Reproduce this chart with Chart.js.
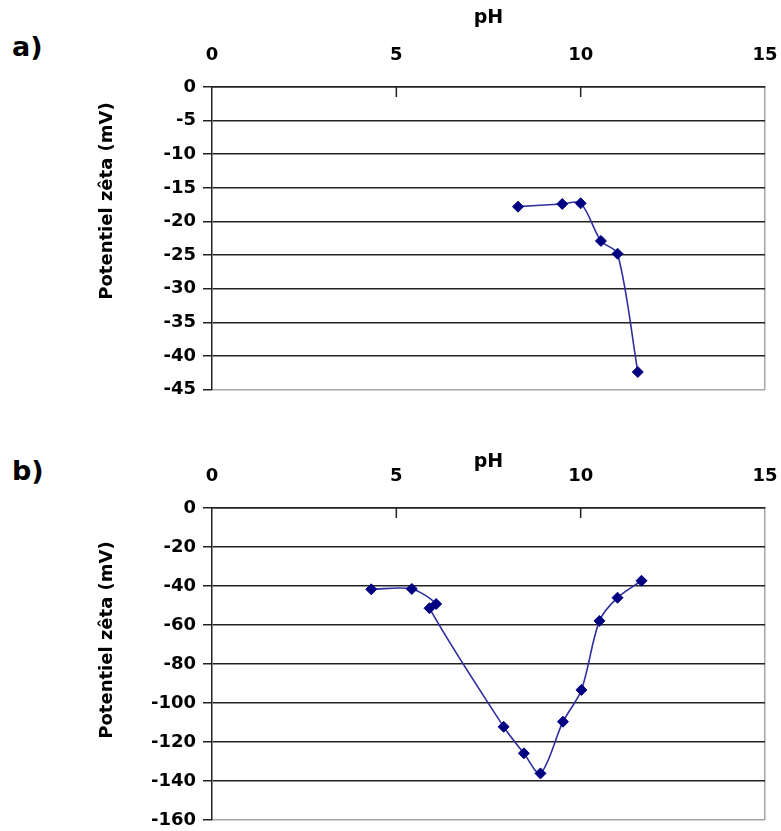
<!DOCTYPE html>
<html>
<head>
<meta charset="utf-8">
<script src="https://cdn.jsdelivr.net/npm/chart.js@4.4.0/dist/chart.umd.min.js"></script>
<style>
  body { margin: 0; background: #fff; width: 781px; height: 831px; position: relative; overflow: hidden; }
  canvas { position: absolute; left: 0; }
  #chartA { top: 0; }
  #chartB { top: 420px; }
  .panel { position: absolute; left: 12px; font: bold 27px "DejaVu Sans"; color: #000; line-height: 32px; }
</style>
</head>
<body>
<div class="panel" style="top:31px">a)</div>
<div class="panel" style="top:455px">b)</div>
<canvas id="chartA" width="781" height="415"></canvas>
<canvas id="chartB" width="781" height="411"></canvas>
<script>
// a) zeta potential vs pH
const phA = [8.3, 9.5, 10.0, 10.55, 11.0, 11.55]
const zetaA = [-17.8, -17.4, -17.3, -22.9, -24.8, -42.4]

// b) zeta potential vs pH
const phB = [4.32, 5.42, 6.08, 5.9, 7.91, 8.46, 8.91, 9.52, 10.02, 10.51, 11.0, 11.65]
const zetaB = [-41.7, -41.5, -49.2, -51.4, -112.2, -125.8, -136.1, -109.6, -93.3, -57.9, -46.0, -37.3]

const xTicks = [0, 5, 10, 15]
const yTicksA = [0, -5, -10, -15, -20, -25, -30, -35, -40, -45]
const yTicksB = [0, -20, -40, -60, -80, -100, -120, -140, -160]

Chart.defaults.font.family = '"DejaVu Sans", sans-serif'
Chart.defaults.font.weight = 'bold'
Chart.defaults.color = '#000'

// small tick marks pointing down into the plot from the top axis
const innerTicks = {
  id: 'innerTicks',
  afterDraw(chart) {
    const ctx = chart.ctx
    const x = chart.scales.x
    const top = chart.chartArea.top
    ctx.save()
    ctx.strokeStyle = '#222'
    ctx.lineWidth = 1.5
    xTicks.slice(1, -1).forEach(v => {
      const px = x.getPixelForValue(v)
      ctx.beginPath()
      ctx.moveTo(px, top)
      ctx.lineTo(px, top + 10)
      ctx.stroke()
    })
    ctx.restore()
  }
}

// vertical axis title, centred where Excel put it
const sideTitle = {
  id: 'sideTitle',
  afterDraw(chart, args, opts) {
    const ctx = chart.ctx
    ctx.save()
    ctx.translate(opts.x, opts.y)
    ctx.rotate(-Math.PI / 2)
    ctx.font = 'bold 18px "DejaVu Sans"'
    ctx.fillStyle = '#000'
    ctx.textAlign = 'center'
    ctx.textBaseline = 'middle'
    ctx.fillText(opts.text, 0, 0)
    ctx.restore()
  }
}

function makeChart(id, xs, ys, yTicks, step, topH, bottomPad, titleY, phPad) {
  const yMin = yTicks[yTicks.length - 1]
  return new Chart(
    document.getElementById(id),
    {
      type: 'scatter',
      data: {
        datasets: [
          {
            data: xs.map((x, i) => ({x: x, y: ys[i]})),
            showLine: true,
            tension: 0.3,
            borderColor: '#2f2fa0',
            borderWidth: 1.6,
            pointStyle: 'rectRot',
            pointRadius: 5.5,
            pointBackgroundColor: '#000080',
            pointBorderColor: '#000080',
            pointBorderWidth: 1
          }
        ]
      },
      options: {
        responsive: false,
        animation: false,
        layout: {
          padding: {left: 0, right: 16, top: 0, bottom: bottomPad}
        },
        plugins: {
          legend: {display: false},
          tooltip: {enabled: false},
          sideTitle: {text: 'Potentiel zêta (mV)', x: 107, y: titleY}
        },
        scales: {
          x: {
            type: 'linear',
            position: 'top',
            min: 0,
            max: 15,
            afterFit: s => { s.height = topH; s.paddingLeft = 0; s.paddingRight = 0 },
            afterBuildTicks: s => { s.ticks = xTicks.map(v => ({value: v})) },
            ticks: {
              font: {size: 18},
              padding: 21
            },
            title: {
              display: true,
              text: 'pH',
              font: {size: 19},
              padding: {top: phPad, bottom: 0}
            },
            grid: {
              drawTicks: false,
              lineWidth: 1.5,
              color: c => (c.tick && c.tick.value === 15) ? '#a6a6a6' : 'rgba(0,0,0,0)'
            },
            border: {color: '#222', width: 1.5}
          },
          y: {
            type: 'linear',
            min: yMin,
            max: 0,
            afterFit: s => { s.width = 212; s.paddingTop = 0; s.paddingBottom = 0 },
            afterBuildTicks: s => { s.ticks = yTicks.slice().reverse().map(v => ({value: v})) },
            ticks: {
              font: {size: 18},
              padding: 7,
              stepSize: step
            },
            grid: {
              tickLength: 9,
              lineWidth: 1.5,
              tickColor: '#222',
              color: c => (c.tick && c.tick.value === yMin) ? '#a6a6a6' : '#222'
            },
            border: {color: '#222', width: 1.5}
          }
        }
      },
      plugins: [innerTicks, sideTitle]
    }
  )
}

const chartA = makeChart('chartA', phA, zetaA, yTicksA, 5, 87, 25.5, 201, 7)
const chartB = makeChart('chartB', phB, zetaB, yTicksB, 20, 88, 11, 220, 31)
</script>
</body>
</html>
